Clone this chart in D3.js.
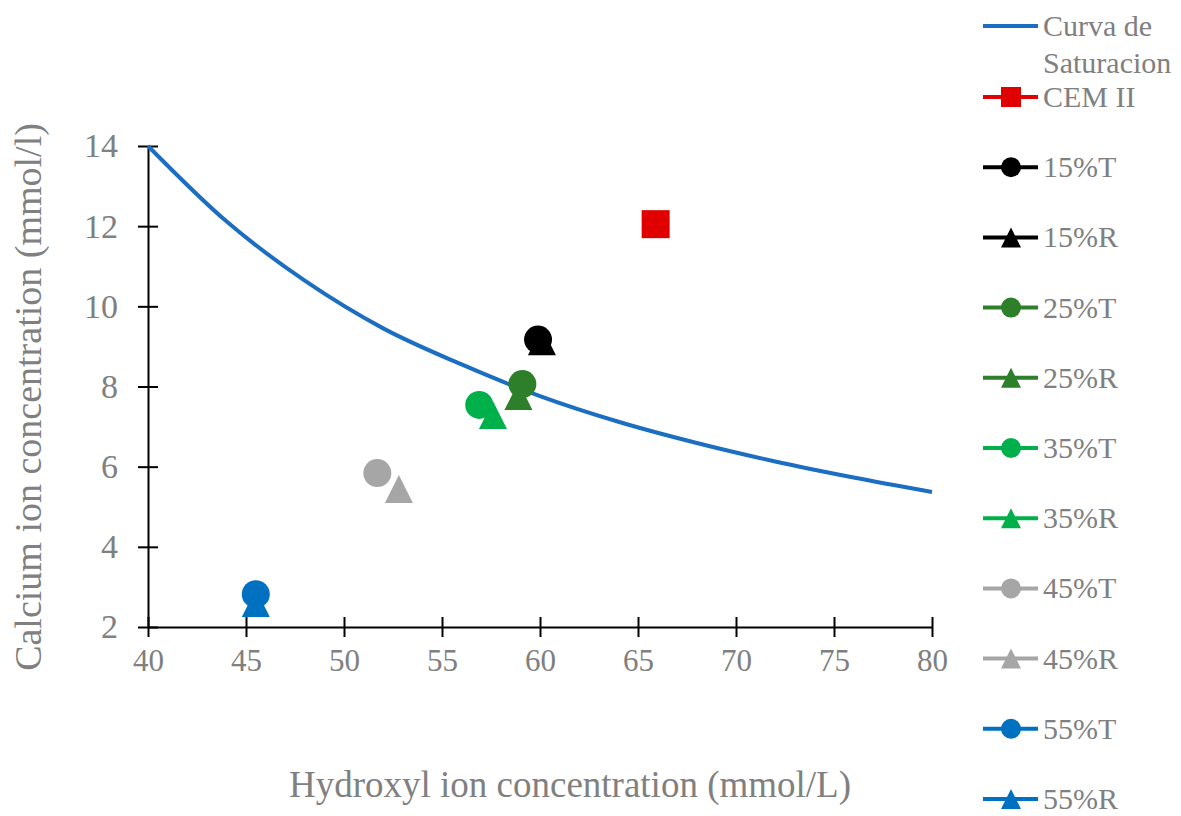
<!DOCTYPE html>
<html>
<head>
<meta charset="utf-8">
<script src="https://cdn.jsdelivr.net/npm/d3@7"></script>
<style>
  body { margin: 0; background: #fff; }
  text { font-family: "Liberation Serif", "Times New Roman", serif; }
</style>
</head>
<body>
<svg width="1181" height="816"></svg>
<script>
// saturation curve
var curveX = [40, 44, 48, 52, 56, 60, 64, 68, 72, 76, 80];
var curveY = [14.0, 12.12, 10.64, 9.45, 8.55, 7.76, 7.12, 6.59, 6.13, 5.73, 5.37];

var seriesNames = ["CEM II", "15%T", "15%R", "25%T", "25%R", "35%T", "35%R", "45%T", "45%R", "55%T", "55%R"];
var seriesX = [65.9, 59.9, 60.1, 59.1, 58.9, 56.9, 57.6, 51.7, 52.8, 45.5, 45.5];
var seriesY = [12.05, 9.17, 9.13, 8.06, 7.76, 7.54, 7.29, 5.84, 5.44, 2.82, 2.6];
var seriesShape = ["square", "circle", "triangle", "circle", "triangle", "circle", "triangle", "circle", "triangle", "circle", "triangle"];
var seriesColor = ["#e00000", "#000000", "#000000", "#2e7f2a", "#2e7f2a", "#00b04a", "#00b04a", "#a6a6a6", "#a6a6a6", "#0070c0", "#0070c0"];

var xTicks = [40, 45, 50, 55, 60, 65, 70, 75, 80];
var yTicks = [2, 4, 6, 8, 10, 12, 14];

var curveColor = "#1b6ec2";
var textColor = "#808080";

var svg = d3.select("svg");

var x = d3.scaleLinear().domain([40, 80]).range([148, 932]);
var y = d3.scaleLinear().domain([2, 14]).range([627, 146]);

function markerPath(shape, s) {
    var h = s / 2;
    if (shape == "square") return "M" + (-h) + "," + (-h) + "h" + s + "v" + s + "h" + (-s) + "Z";
    if (shape == "triangle") return "M0," + (-h) + "L" + h + "," + h + "L" + (-h) + "," + h + "Z";
    return d3.symbol(d3.symbolCircle, Math.PI * h * h)();
}

// axes
var xAxis = svg.append("g")
    .attr("transform", "translate(0," + y(2) + ")")
    .call(d3.axisBottom(x).tickValues(xTicks).tickSizeInner(10).tickSizeOuter(0).tickPadding(12));
xAxis.selectAll(".tick line").attr("y1", -10).attr("stroke", "#000").attr("stroke-width", 2);
xAxis.select(".domain").attr("stroke", "#000").attr("stroke-width", 2);
xAxis.selectAll("text")
    .attr("fill", textColor)
    .style("font-size", "31px");

var yAxis = svg.append("g")
    .attr("transform", "translate(" + x(40) + ",0)")
    .call(d3.axisLeft(y).tickValues(yTicks).tickSizeInner(10).tickSizeOuter(0).tickPadding(20));
yAxis.selectAll(".tick line").attr("x1", 10).attr("x2", -10).attr("stroke", "#000").attr("stroke-width", 2);
yAxis.select(".domain").attr("stroke", "#000").attr("stroke-width", 2);
yAxis.selectAll("text")
    .attr("fill", textColor)
    .style("font-size", "34px");

// axis titles
svg.append("text")
    .attr("x", 570)
    .attr("y", 797)
    .attr("text-anchor", "middle")
    .attr("fill", textColor)
    .style("font-size", "37px")
    .text("Hydroxyl ion concentration (mmol/L)");

svg.append("text")
    .attr("transform", "translate(41,397) rotate(-90)")
    .attr("text-anchor", "middle")
    .attr("fill", textColor)
    .style("font-size", "38px")
    .text("Calcium ion concentration (mmol/l)");

// saturation curve
var curveData = curveX.map(function(d, i) { return { x: d, y: curveY[i] }; });
var line = d3.line()
    .x(function(d) { return x(d.x); })
    .y(function(d) { return y(d.y); })
    .curve(d3.curveMonotoneX);

svg.append("path")
    .datum(curveData)
    .attr("fill", "none")
    .attr("stroke", curveColor)
    .attr("stroke-width", 4)
    .attr("d", line);

// points
seriesNames.forEach(function(name, i) {
    svg.append("path")
        .attr("transform", "translate(" + x(seriesX[i]) + "," + y(seriesY[i]) + ")")
        .attr("d", markerPath(seriesShape[i], 28))
        .attr("fill", seriesColor[i]);
});

// legend
var lg = svg.append("g");
lg.append("line")
    .attr("x1", 983).attr("x2", 1038)
    .attr("y1", 26).attr("y2", 26)
    .attr("stroke", curveColor)
    .attr("stroke-width", 4);
lg.append("text")
    .attr("x", 1043).attr("y", 36)
    .attr("fill", textColor)
    .style("font-size", "30px")
    .text("Curva de");
lg.append("text")
    .attr("x", 1043).attr("y", 73)
    .attr("fill", textColor)
    .style("font-size", "30px")
    .text("Saturacion");

seriesNames.forEach(function(name, i) {
    var ly = 97 + i * 70.2;
    lg.append("line")
        .attr("x1", 983).attr("x2", 1038)
        .attr("y1", ly).attr("y2", ly)
        .attr("stroke", seriesColor[i])
        .attr("stroke-width", 4);
    lg.append("path")
        .attr("transform", "translate(1011," + ly + ")")
        .attr("d", markerPath(seriesShape[i], 20))
        .attr("fill", seriesColor[i]);
    lg.append("text")
        .attr("x", 1043).attr("y", ly + 10)
        .attr("fill", textColor)
        .style("font-size", "30px")
        .text(name);
});
</script>
</body>
</html>
